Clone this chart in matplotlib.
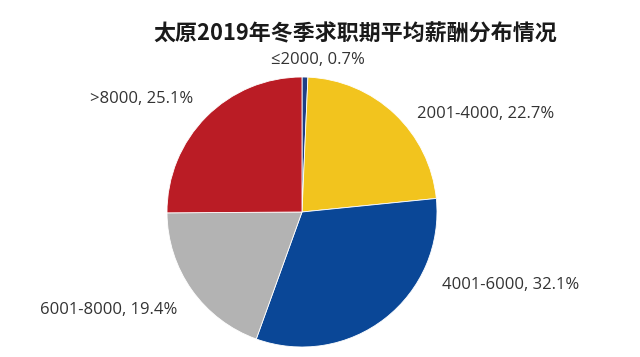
import matplotlib
matplotlib.use("Agg")
import matplotlib.pyplot as plt

plt.rcParams['font.family'] = ['Noto Sans CJK SC', 'DejaVu Sans']

title = "太原2019年冬季求职期平均薪酬分布情况"
categories = ["≤2000", "2001-4000", "4001-6000", "6001-8000", ">8000"]
shares = [0.7, 22.7, 32.1, 19.4, 25.1]
colors = ["#1F3F86", "#F2C41E", "#0A4797", "#B3B3B3", "#BA1C25"]

W, H = 640, 357
fig = plt.figure(figsize=(W / 100, H / 100), dpi=100)
fig.patch.set_facecolor("white")

cx, cy, r = 302, 212, 135
ax = fig.add_axes([(cx - r) / W, (H - cy - r) / H, 2 * r / W, 2 * r / H])
ax.pie(shares, colors=colors, startangle=90, counterclock=False,
       radius=1, wedgeprops=dict(linewidth=0.6, edgecolor="white"))
ax.set_xlim(-1, 1)
ax.set_ylim(-1, 1)
ax.set_aspect("equal")
ax.axis("off")

fig.text(355 / W, 1 - 34 / H, title, ha="center", va="center",
         fontsize=15.8, fontweight="bold", color="#1a1a1a")

# label anchor positions (pixels) and alignment
label_pos = [(318, 60, "center"), (417, 114, "left"), (442, 285, "left"),
             (177, 310, "right"), (193, 99, "right")]
for cat, val, (px, py, ha) in zip(categories, shares, label_pos):
    fig.text(px / W, 1 - py / H, f"{cat}, {val}%", ha=ha, va="center",
             fontsize=12, color="#333333",
             family=['Open Sans', 'DejaVu Sans'])

fig.savefig("out.png", dpi=100, facecolor="white")
